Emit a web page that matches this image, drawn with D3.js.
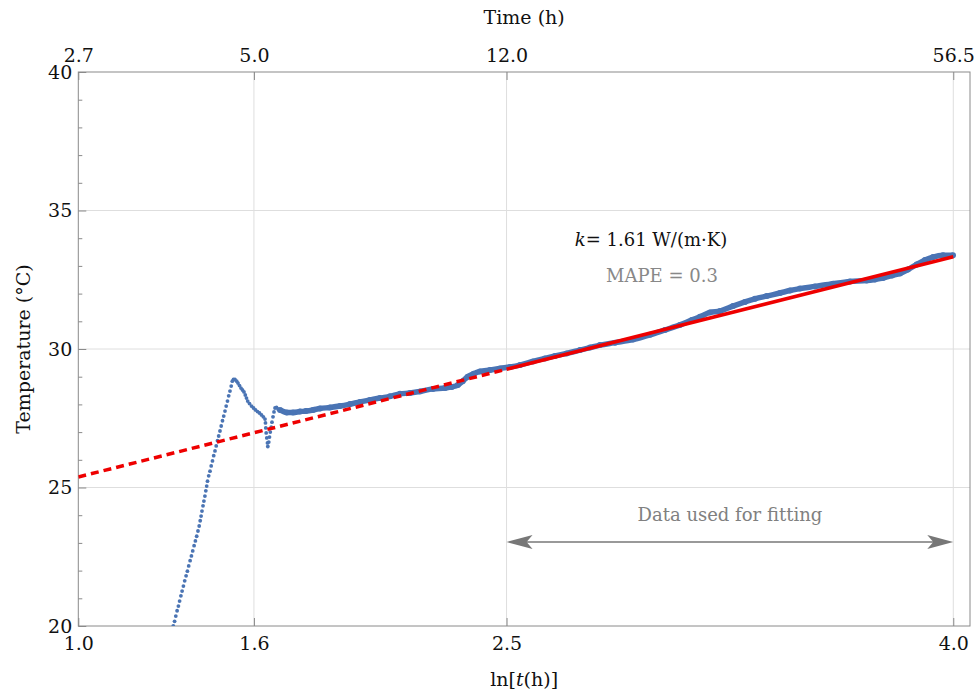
<!DOCTYPE html>
<html>
<head>
<meta charset="utf-8">
<script src="https://cdn.jsdelivr.net/npm/d3@7"></script>
<style>
  body { margin: 0; background: #fff; }
  text { font-family: "DejaVu Serif", serif; }
</style>
</head>
<body>
<div id="chart"></div>
<script>
// x ticks (ln t) and their labels
const X_TICKS = [1.0, 1.609, 2.485, 4.034];
const X_LABELS = ["1.0", "1.6", "2.5", "4.0"];
const TIME_LABELS = ["2.7", "5.0", "12.0", "56.5"];
const Y_TICKS = [20, 25, 30, 35, 40];

// early, sparse readings (heating transient)
const sparseLnT = [
  1.3294, 1.3339, 1.3381, 1.3426, 1.3471, 1.3512, 1.3558, 1.3599, 1.3644, 1.3689,
  1.3738, 1.3783, 1.3828, 1.3877, 1.3922, 1.3967, 1.4015, 1.4060, 1.4105, 1.4150,
  1.4192, 1.4227, 1.4258, 1.4289, 1.4324, 1.4355, 1.4390, 1.4421, 1.4452, 1.4480,
  1.4522, 1.4567, 1.4608, 1.4653, 1.4695, 1.4740, 1.4782, 1.4827, 1.4868, 1.4913,
  1.4955, 1.5000, 1.5042, 1.5087, 1.5128, 1.5173, 1.5215, 1.5260, 1.5302, 1.5340,
  1.5381, 1.5433, 1.5492, 1.5537, 1.5589, 1.5641, 1.5693, 1.5745, 1.5790, 1.5832,
  1.5874, 1.5936, 1.6006, 1.6075, 1.6144, 1.6214, 1.6283, 1.6352, 1.6415, 1.6474,
  1.6491, 1.6501, 1.6515, 1.6536, 1.6560, 1.6571, 1.6605, 1.6630, 1.6657, 1.6689,
  1.6716, 1.6751, 1.6786, 1.6821, 1.6873, 1.6925,
];
const sparseTemp = [
  20.00, 20.17, 20.36, 20.55, 20.72, 20.90, 21.09, 21.26, 21.44, 21.63,
  21.81, 21.98, 22.17, 22.36, 22.53, 22.71, 22.90, 23.07, 23.24, 23.43,
  23.61, 23.80, 23.97, 24.15, 24.34, 24.51, 24.69, 24.88, 25.05, 25.23,
  25.42, 25.59, 25.78, 25.96, 26.15, 26.32, 26.50, 26.69, 26.86, 27.04,
  27.22, 27.41, 27.58, 27.76, 27.94, 28.12, 28.31, 28.48, 28.66, 28.84,
  28.90, 28.90, 28.84, 28.77, 28.68, 28.59, 28.52, 28.45, 28.34, 28.23,
  28.12, 28.03, 27.94, 27.87, 27.80, 27.74, 27.69, 27.62, 27.55, 27.47,
  27.33, 27.15, 26.97, 26.79, 26.61, 26.48, 26.64, 26.82, 27.00, 27.18,
  27.36, 27.55, 27.73, 27.87, 27.89, 27.83,
];

// later, dense readings
const denseLnT = [
  1.6994, 1.7226, 1.7445, 1.7687, 1.7895, 1.8138, 1.8381, 1.8728, 1.9074, 1.9421,
  1.9767, 2.0114, 2.0461, 2.0808, 2.1154, 2.1501, 2.1848, 2.2299, 2.2715, 2.2950,
  2.3159, 2.3329, 2.3503, 2.3711, 2.3929, 2.4275, 2.4622, 2.4969, 2.5316, 2.5767,
  2.6183, 2.6529, 2.6935, 2.7396, 2.7743, 2.8089, 2.8610, 2.9234, 2.9823, 3.0344,
  3.0863, 3.1279, 3.1557, 3.1904, 3.2250, 3.2701, 3.3117, 3.3464, 3.3870, 3.4331,
  3.4678, 3.5024, 3.5544, 3.6169, 3.6758, 3.7337, 3.7625, 3.7902, 3.8214, 3.8492,
  3.8769, 3.9071, 3.9359, 3.9636, 3.9983, 4.0330,
];
const denseTemp = [
  27.80, 27.71, 27.71, 27.74, 27.76, 27.80, 27.85, 27.89, 27.94, 28.01,
  28.09, 28.16, 28.23, 28.29, 28.38, 28.41, 28.47, 28.56, 28.59, 28.63,
  28.70, 28.84, 29.00, 29.11, 29.19, 29.24, 29.30, 29.35, 29.42, 29.55,
  29.66, 29.75, 29.84, 29.96, 30.05, 30.14, 30.23, 30.34, 30.51, 30.69,
  30.87, 31.05, 31.16, 31.32, 31.37, 31.55, 31.70, 31.81, 31.91, 32.02,
  32.11, 32.18, 32.26, 32.36, 32.44, 32.47, 32.51, 32.56, 32.65, 32.73,
  32.87, 33.05, 33.21, 33.32, 33.38, 33.38,
];

// fitted line: dashed below the fitting range, solid inside it
const fitLnT = [1.0, 2.485, 4.034];
const fitTemp = [25.38, 29.27, 33.33];

const width = 974;
const height = 697;
const margin = { top: 72, right: 4, bottom: 71, left: 78.3 };
const blue = "#4a74b4";

const x = d3.scaleLinear().domain([1.0, 4.092]).range([margin.left, width - margin.right]);
const y = d3.scaleLinear().domain([20, 40]).range([height - margin.bottom, margin.top]);

const svg = d3
  .select("#chart")
  .append("svg")
  .attr("width", width)
  .attr("height", height);

svg.append("defs")
  .append("clipPath")
  .attr("id", "plot-clip")
  .append("rect")
  .attr("x", x.range()[0])
  .attr("y", y.range()[1])
  .attr("width", x.range()[1] - x.range()[0])
  .attr("height", y.range()[0] - y.range()[1]);

// grid
svg.append("g")
  .selectAll("line")
  .data(X_TICKS.slice(1))
  .join("line")
  .attr("x1", (d) => x(d)).attr("x2", (d) => x(d))
  .attr("y1", y(40)).attr("y2", y(20))
  .attr("stroke", "#dedede");
svg.append("g")
  .selectAll("line")
  .data(Y_TICKS.slice(1, -1))
  .join("line")
  .attr("y1", (d) => y(d)).attr("y2", (d) => y(d))
  .attr("x1", x.range()[0]).attr("x2", x.range()[1])
  .attr("stroke", "#dedede");

const styleAxis = (g) => {
  g.select(".domain").remove();
  g.selectAll(".tick line").attr("stroke", "#8a8a8a");
  g.selectAll("text")
    .attr("font-family", "DejaVu Serif, serif")
    .attr("font-size", 19)
    .attr("fill", "#111");
};

// axes
svg.append("g")
  .attr("transform", `translate(0,${y(20)})`)
  .call(d3.axisBottom(x).tickValues(X_TICKS).tickFormat((d, i) => X_LABELS[i]).tickSize(-8).tickPadding(11))
  .call(styleAxis);

svg.append("g")
  .attr("transform", `translate(0,${y(40)})`)
  .call(d3.axisTop(x).tickValues(X_TICKS).tickFormat((d, i) => TIME_LABELS[i]).tickSize(-8).tickPadding(10))
  .call(styleAxis);

svg.append("g")
  .attr("transform", `translate(${x.range()[0]},0)`)
  .call(d3.axisLeft(y).tickValues(Y_TICKS).tickSize(-8).tickPadding(6))
  .call(styleAxis);

svg.append("g")
  .attr("transform", `translate(${x.range()[0]},0)`)
  .call(d3.axisLeft(y).tickValues(d3.range(21, 40).filter((d) => d % 5)).tickSize(-4).tickFormat(""))
  .call(styleAxis);

// frame
svg.append("rect")
  .attr("x", x.range()[0])
  .attr("y", y.range()[1])
  .attr("width", x.range()[1] - x.range()[0])
  .attr("height", y.range()[0] - y.range()[1])
  .attr("fill", "none")
  .attr("stroke", "#8a8a8a");

const plot = svg.append("g").attr("clip-path", "url(#plot-clip)");

// data
const dense = denseLnT.map((v, i) => ({ v, t: denseTemp[i] }));
const sparse = sparseLnT.map((v, i) => ({ v, t: sparseTemp[i] }));

plot.append("path")
  .datum(dense)
  .attr("fill", "none")
  .attr("stroke", blue)
  .attr("stroke-width", 5.5)
  .attr("stroke-linejoin", "round")
  .attr("d", d3.line().curve(d3.curveMonotoneX).x((d) => x(d.v)).y((d) => y(d.t)));

plot.append("g")
  .selectAll("circle")
  .data(dense)
  .join("circle")
  .attr("cx", (d) => x(d.v))
  .attr("cy", (d) => y(d.t))
  .attr("r", 3)
  .attr("fill", blue);

plot.append("g")
  .selectAll("circle")
  .data(sparse)
  .join("circle")
  .attr("cx", (d) => x(d.v))
  .attr("cy", (d) => y(d.t))
  .attr("r", 1.9)
  .attr("fill", blue);

// fit
const fit = fitLnT.map((v, i) => ({ v, t: fitTemp[i] }));
const fitLine = d3.line().x((d) => x(d.v)).y((d) => y(d.t));
plot.append("path")
  .datum(fit.slice(0, 2))
  .attr("fill", "none")
  .attr("stroke", "#ee0000")
  .attr("stroke-width", 3.5)
  .attr("stroke-dasharray", "8,5")
  .attr("d", fitLine);
plot.append("path")
  .datum(fit.slice(1))
  .attr("fill", "none")
  .attr("stroke", "#ee0000")
  .attr("stroke-width", 3.5)
  .attr("d", fitLine);

// fitting range arrow
const arrowY = 542;
const x0 = x(fitLnT[1]);
const x1 = x(X_TICKS[3]);
svg.append("line")
  .attr("x1", x0 + 10).attr("x2", x1 - 10)
  .attr("y1", arrowY).attr("y2", arrowY)
  .attr("stroke", "#777").attr("stroke-width", 1.6);
svg.append("path")
  .attr("d", `M${x0},${arrowY} L${x0 + 26},${arrowY - 7} L${x0 + 20},${arrowY} L${x0 + 26},${arrowY + 7} Z`)
  .attr("fill", "#777");
svg.append("path")
  .attr("d", `M${x1},${arrowY} L${x1 - 26},${arrowY - 7} L${x1 - 20},${arrowY} L${x1 - 26},${arrowY + 7} Z`)
  .attr("fill", "#777");
svg.append("text")
  .attr("x", (x0 + x1) / 2)
  .attr("y", 521)
  .attr("text-anchor", "middle")
  .attr("font-size", 18)
  .attr("fill", "#808080")
  .text("Data used for fitting");

// annotations
const kText = svg.append("text")
  .attr("x", 651)
  .attr("y", 246)
  .attr("text-anchor", "middle")
  .attr("font-size", 18)
  .attr("fill", "#111");
kText.append("tspan").attr("font-style", "italic").text("k");
kText.append("tspan").text("= 1.61 W/(m·K)");

svg.append("text")
  .attr("x", 662)
  .attr("y", 282)
  .attr("text-anchor", "middle")
  .attr("font-size", 18)
  .attr("fill", "#888")
  .text("MAPE = 0.3");

// axis titles
svg.append("text")
  .attr("x", (x.range()[0] + x.range()[1]) / 2)
  .attr("y", 24)
  .attr("text-anchor", "middle")
  .attr("font-size", 19)
  .attr("fill", "#111")
  .text("Time (h)");

const xTitle = svg.append("text")
  .attr("x", (x.range()[0] + x.range()[1]) / 2)
  .attr("y", 686)
  .attr("text-anchor", "middle")
  .attr("font-size", 19)
  .attr("fill", "#111");
xTitle.append("tspan").text("ln[");
xTitle.append("tspan").attr("font-style", "italic").text("t");
xTitle.append("tspan").text("(h)]");

svg.append("text")
  .attr("transform", `translate(30,${(y.range()[0] + y.range()[1]) / 2}) rotate(-90)`)
  .attr("text-anchor", "middle")
  .attr("font-size", 19)
  .attr("fill", "#111")
  .text("Temperature (°C)");
</script>
</body>
</html>
